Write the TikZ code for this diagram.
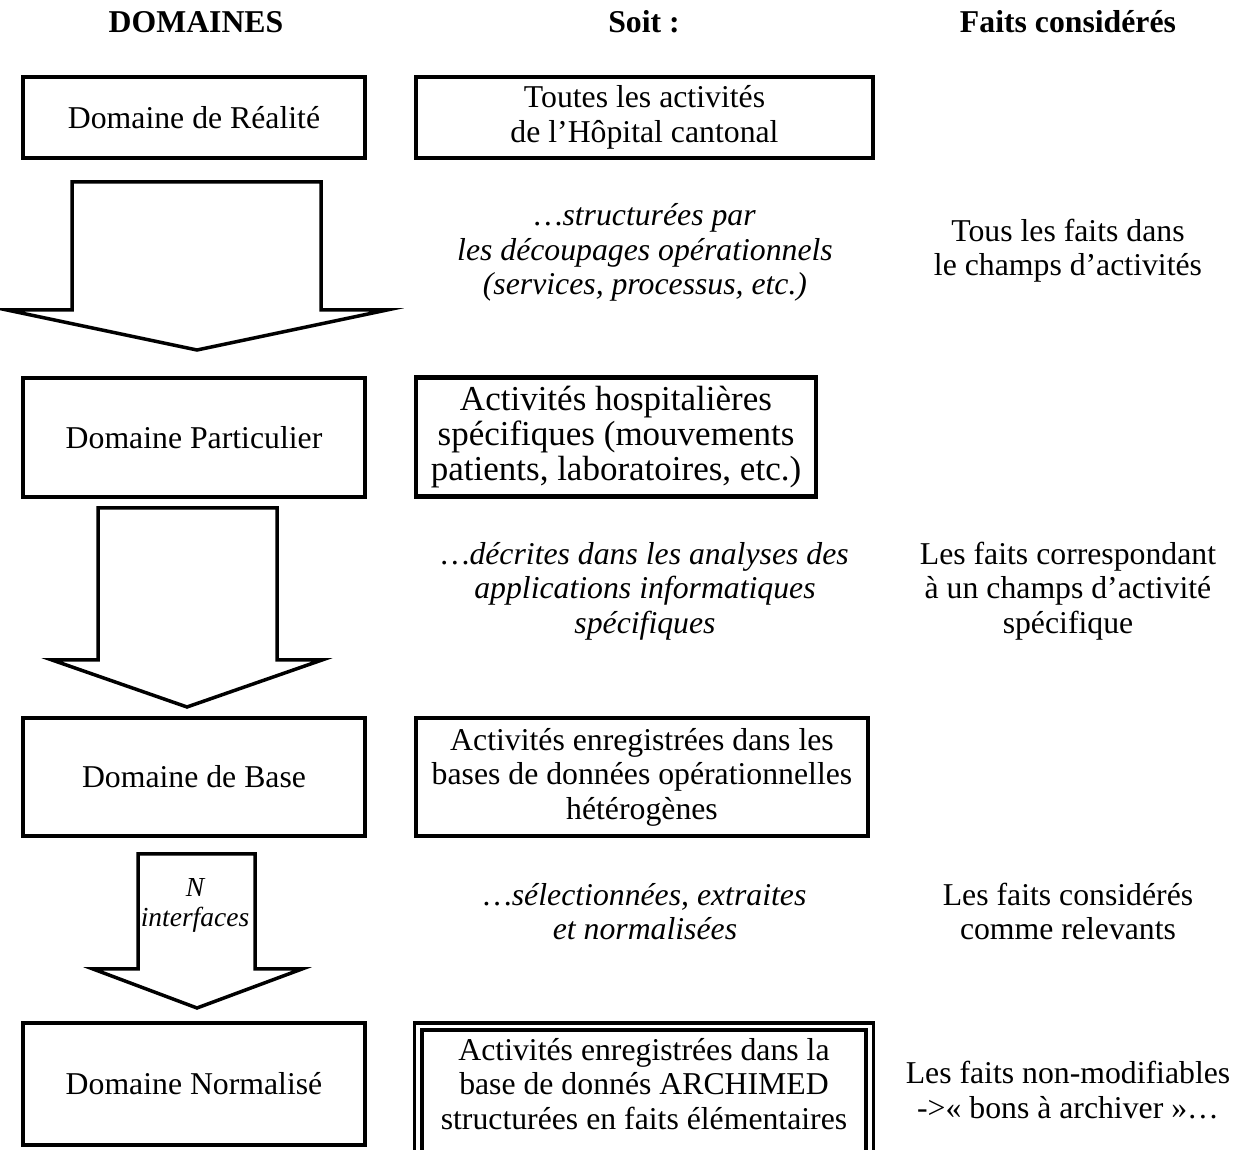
\documentclass[tikz,border=0pt]{standalone}
\usepackage{fontspec}
\setmainfont{Liberation Serif}
\usepackage{tikz}
\usetikzlibrary{calc,positioning}
\tikzset{
  boite/.style = {draw, line width=1.9pt, outer sep=0pt, align=center, inner sep=1pt,
  font=\fontsize{12.7}{13.8}\selectfont},
  box_l/.style = {boite, minimum width=136.8pt},
  box_r/.style = {boite},
  texte/.style = {align=center, outer sep=0pt, font=\fontsize{12.7}{13.8}\selectfont},
  texte_i/.style = {texte, font=\fontsize{12.7}{13.8}\selectfont\itshape}
}

\begin{document}
\begin{tikzpicture}[x=0.4pt,y=-0.4pt,
        	titre/.style={font=\fontsize{12.7}{13.8}\selectfont\bfseries},
        	fleche/.style={draw, fill=white, line width=1.4pt},
        	cadre/.style={draw, line width=1.5pt, double, double distance=1.5pt},
        	n_lab/.style={align=center, inner sep=0pt, font=\fontsize{11}{12}\selectfont\itshape}]
  \useasboundingbox (0,0) rectangle (1242,1150);
  % titres des colonnes
  \node [titre] (t_dom) at (196,22) {DOMAINES};
  \node [titre] (t_soit) at (644,22) {Soit :};
  \node [titre] (t_faits) at (1068,22) {Faits considérés};
  % domaines
  \node [box_l, minimum height=32.4pt] (dom_r) at (194,117.5) {Domaine de Réalité};
  \node [box_l, minimum height=47.6pt] (dom_p) at (194,437.5) {Domaine Particulier};
  \node [box_l, minimum height=47.2pt] (dom_b) at (194,777) {Domaine de Base};
  \node [box_l, minimum height=48.8pt] (dom_n) at (194,1084) {Domaine Normalisé};
  % soit
  \node [box_r, minimum width=182.8pt, minimum height=32.4pt] (soit_r) at (644.5,117.5)
    {Toutes les activités\\de l’Hôpital cantonal};
  \node [box_r, minimum width=160pt, minimum height=47.6pt, inner sep=0pt,
    font=\fontsize{14}{13.9}\selectfont] (soit_p) at (616,437)
    {Activités hospitalières\\spécifiques (mouvements\\patients, laboratoires, etc.)};
  \node [box_r, minimum width=180.8pt, minimum height=47.2pt] (soit_b) at (642,777)
    {Activités enregistrées dans les\\bases de données opérationnelles\\hétérogènes};
  \node [texte, minimum width=180.6pt, minimum height=46pt] (soit_n) at (644,1084)
    {Activités enregistrées dans la\\base de donnés ARCHIMED\\structurées en faits élémentaires};
  \draw [cadre] ([yshift=-20pt]soit_n.south west) |- (soit_n.north east)
    -- ([yshift=-20pt]soit_n.south east);
  \node [texte_i] (struct) at (645,252.5) {…structurées par\\les découpages opérationnels\\(services, processus, etc.)};
  \node [texte_i] (decrit) at (645,591) {…décrites dans les analyses des\\applications informatiques\\spécifiques};
  \node [texte_i] (select) at (645,911.5) {…sélectionnées, extraites\\et normalisées};
  % faits
  \node [texte] (f_tous) at (1068,250.5) {Tous les faits dans\\le champs d’activités};
  \node [texte] (f_spec) at (1068,591) {Les faits correspondant\\à un champs d’activité\\spécifique};
  \node [texte] (f_rel) at (1068,911.5) {Les faits considérés\\comme relevants};
  \node [texte] (f_arch) at (1068,1090) {Les faits non-modifiables\\->« bons à archiver »…};
  % grosses fleches
  \draw [fleche] ($(dom_r.south)+(2.5,24)$) ++(-124.5,0) -- ++(249,0) -- ++(0,128) -- ++(66,0)
    -- ++(-190,40) -- ++(-190,-40) -- ++(65,0) -- cycle;
  \draw [fleche] ($(dom_p.south)+(-6.5,11)$) ++(-89.5,0) -- ++(179,0) -- ++(0,152) -- ++(45,0)
    -- ++(-135,47) -- ++(-135,-47) -- ++(46,0) -- cycle;
  \draw [fleche] ($(dom_b.south)+(2.5,18)$) ++(-58.5,0) -- ++(117,0) -- ++(0,115) -- ++(47,0)
    -- ++(-105,39) -- ++(-104,-39) -- ++(45,0) -- cycle;
  \node [n_lab] (interf) at (195,905) {N\\interfaces};
\end{tikzpicture}
\end{document}
